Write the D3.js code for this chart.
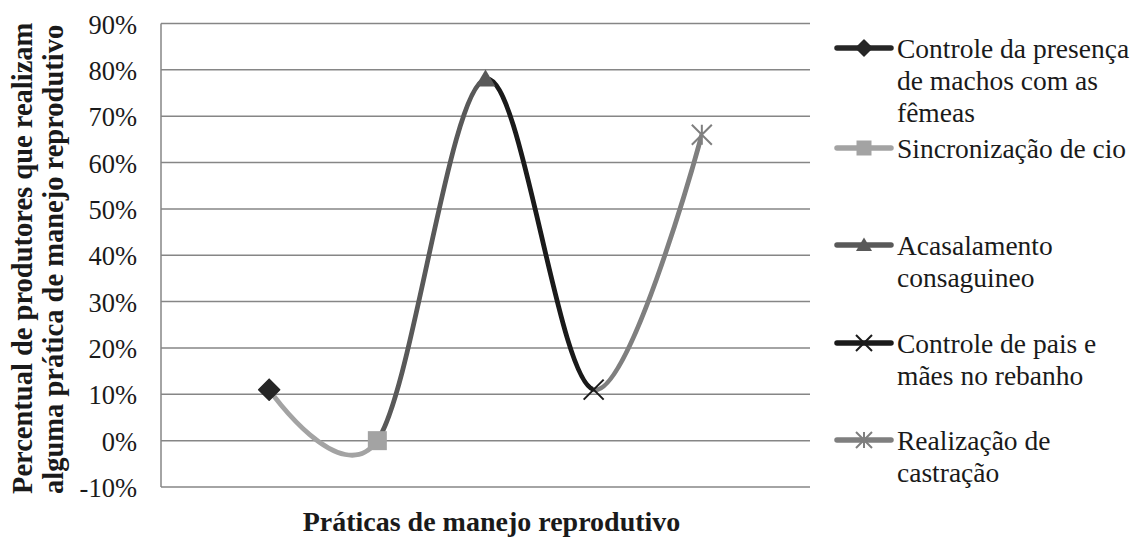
<!DOCTYPE html>
<html>
<head>
<meta charset="utf-8">
<script src="https://cdn.jsdelivr.net/npm/d3@7"></script>
<style>
  html, body { margin: 0; padding: 0; background: #fff; }
  svg { display: block; }
</style>
</head>
<body>
<svg id="chart" width="1135" height="539"></svg>
<script>
// ---- data ----
const categories = [
  "Controle da presença de machos com as fêmeas",
  "Sincronização de cio",
  "Acasalamento consaguineo",
  "Controle de pais e mães no rebanho",
  "Realização de castração"
];
const legendLines = [
  ["Controle da presença", "de machos com as", "fêmeas"],
  ["Sincronização de cio"],
  ["Acasalamento", "consaguineo"],
  ["Controle de pais e", "mães no rebanho"],
  ["Realização de", "castração"]
];
const values = [0.11, 0.00, 0.78, 0.11, 0.66];
const yTicks = [-0.1, 0, 0.1, 0.2, 0.3, 0.4, 0.5, 0.6, 0.7, 0.8, 0.9];
const yTitle = ["Percentual de produtores que realizam", "alguma prática de manejo reprodutivo"];
const xTitle = "Práticas de manejo reprodutivo";
const colors = ["#262626", "#a3a3a3", "#595959", "#1a1a1a", "#7f7f7f"];
const markers = ["diamond", "square", "triangle", "x", "star"];

const FONT = "'Liberation Serif', 'Times New Roman', Times, serif";

// ---- layout ----
const svg = d3.select("#chart");
const plot = { left: 161, right: 810, top: 23.5, bottom: 487 };
const x = d3.scaleLinear().domain([0, categories.length + 1]).range([plot.left, plot.right]);
const y = d3.scaleLinear().domain([-0.1, 0.9]).range([plot.bottom, plot.top]);
const fmt = v => `${Math.round(v * 100)}%`;

// gridlines
svg.append("g").selectAll("line").data(yTicks).join("line")
  .attr("x1", plot.left).attr("x2", plot.right)
  .attr("y1", d => y(d)).attr("y2", d => y(d))
  .attr("stroke", "#868686").attr("stroke-width", 1.5);

// y axis line
svg.append("line")
  .attr("x1", plot.left).attr("x2", plot.left)
  .attr("y1", y(0.9)).attr("y2", y(-0.1))
  .attr("stroke", "#868686").attr("stroke-width", 1.5);

// y tick labels
svg.append("g").selectAll("text").data(yTicks).join("text")
  .attr("x", 137).attr("y", d => y(d) + 10)
  .attr("text-anchor", "end")
  .attr("font-family", FONT).attr("font-size", 26.5).attr("fill", "#1a1a1a")
  .text(fmt);

// y title
svg.append("g").selectAll("text").data(yTitle).join("text")
  .attr("transform", (d, i) => `translate(${32 + i * 31},494) rotate(-90)`)
  .attr("text-anchor", "start")
  .attr("font-family", FONT).attr("font-size", 28.5).attr("font-weight", "bold").attr("fill", "#1a1a1a")
  .text(d => d);

// x title
svg.append("text")
  .attr("x", (plot.left + plot.right) / 2 + 6).attr("y", 531)
  .attr("text-anchor", "middle")
  .attr("font-family", FONT).attr("font-size", 28).attr("font-weight", "bold").attr("fill", "#1a1a1a")
  .text(xTitle);

// smooth line, one colour per segment (colour of the segment's end point)
const pts = values.map((v, i) => [i + 1, v]);
const line = d3.line().x(d => x(d[0])).y(d => y(d[1])).curve(d3.curveCardinal.tension(0));
const defs = svg.append("defs");
for (let i = 1; i < pts.length; i++) {
  defs.append("clipPath").attr("id", "seg" + i)
    .append("rect")
    .attr("x", x(pts[i - 1][0])).attr("width", x(pts[i][0]) - x(pts[i - 1][0]))
    .attr("y", 0).attr("height", 539);
}
const segG = svg.append("g");
for (let i = 1; i < pts.length; i++) {
  segG.append("path")
    .attr("d", line(pts))
    .attr("clip-path", `url(#seg${i})`)
    .attr("fill", "none")
    .attr("stroke", colors[i])
    .attr("stroke-width", 4.8);
}

// markers
function drawMarker(g, type, color, s) {
  const h = s / 2;
  if (type === "diamond") {
    g.append("path").attr("d", `M0,${-h}L${h},0L0,${h}L${-h},0Z`)
      .attr("fill", color).attr("stroke", color).attr("stroke-width", 1.5).attr("stroke-linejoin", "round");
  } else if (type === "square") {
    g.append("rect").attr("x", -h + 0.5).attr("y", -h + 0.5).attr("width", s - 1).attr("height", s - 1)
      .attr("fill", color);
  } else if (type === "triangle") {
    g.append("path").attr("d", `M0,${-h * 0.95}L${h},${h * 0.75}L${-h},${h * 0.75}Z`)
      .attr("fill", color);
  } else if (type === "x") {
    g.append("path").attr("d", `M${-h},${-h}L${h},${h}M${-h},${h}L${h},${-h}`)
      .attr("stroke", color).attr("stroke-width", 2).attr("fill", "none");
  } else if (type === "star") {
    g.append("path").attr("d", `M${-h},${-h}L${h},${h}M${-h},${h}L${h},${-h}M0,${-h}L0,${h}`)
      .attr("stroke", color).attr("stroke-width", 2).attr("fill", "none");
  }
}
pts.forEach((p, i) => {
  const g = svg.append("g").attr("transform", `translate(${x(p[0])},${y(p[1])})`);
  drawMarker(g, markers[i], colors[i], i === 0 ? 21 : 20);
});

// legend
const legendY = [48, 148, 245, 343, 440];
const lg = svg.append("g");
legendLines.forEach((lines, i) => {
  const g = lg.append("g").attr("transform", `translate(0,${legendY[i]})`);
  g.append("line").attr("x1", 837).attr("x2", 891).attr("y1", 0).attr("y2", 0)
    .attr("stroke", colors[i]).attr("stroke-width", 5.5).attr("stroke-linecap", "round");
  const mg = g.append("g").attr("transform", "translate(864,0)");
  drawMarker(mg, markers[i], colors[i], 16);
  g.selectAll("text").data(lines).join("text")
    .attr("x", 897).attr("y", (d, j) => 10 + j * 32)
    .attr("font-family", FONT).attr("font-size", 27.5).attr("fill", "#1a1a1a")
    .text(d => d);
});
</script>
</body>
</html>
